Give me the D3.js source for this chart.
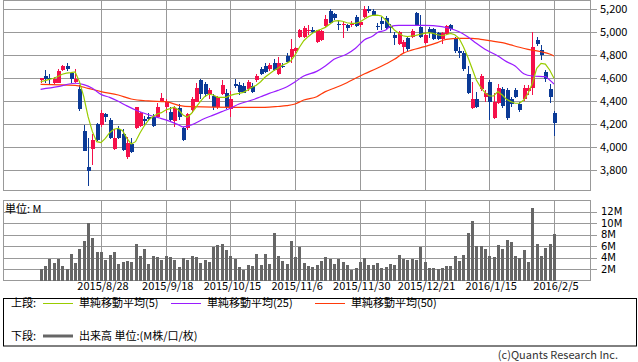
<!DOCTYPE html>
<html>
<head>
<meta charset="utf-8">
<script src="https://cdn.jsdelivr.net/npm/d3@7"></script>
<style>
  body { margin: 0; background: #fff; }
  svg { display: block; font-family: "Noto Sans CJK JP", "Noto Sans", sans-serif; }
</style>
</head>
<body>
<svg id="chart" width="638" height="362"></svg>
<script>
// tick labels
const dateTickIdx = [14, 29, 44, 59, 74, 89, 104, 119];
const dateTickLabels = ['2015/8/28', '2015/9/18', '2015/10/15', '2015/11/6', '2015/11/30', '2015/12/21', '2016/1/15', '2016/2/5'];
const priceTicks = [3800, 4000, 4200, 4400, 4600, 4800, 5000, 5200];
const volTicks = [2, 4, 6, 8, 10, 12];

// daily candles, 2015/8/10 .. 2016/2/5
const opens = [4583, 4620, 4600, 4556, 4562, 4672, 4707, 4649, 4568, 4504,
  4142, 3831, 3988, 4203, 4194, 4290, 4237, 3988, 4155, 4116,
  3920, 4025, 4167, 4185, 4249, 4266, 4266, 4266, 4397, 4348,
  4310, 4232, 4339, 4168, 4165, 4324, 4397, 4581, 4550, 4466,
  4446, 4353, 4466, 4475, 4330, 4550, 4539, 4530, 4504, 4533,
  4581, 4678, 4707, 4678, 4736, 4638, 4710, 4794, 4788, 4837,
  4957, 4957, 5010, 5020, 4918, 4930, 5055, 5189, 5160, 5070,
  5065, 5060, 5060, 5132, 5060, 5130, 5200, 5185, 5055, 5098,
  5122, 5052, 4977, 4896, 4875, 4948, 4962, 5170, 5049, 4904,
  5026, 5026, 4991, 4939, 4985, 5061, 4948, 4840, 4817, 4638,
  4339, 4417, 4504, 4434, 4571, 4252, 4386, 4504, 4498, 4423,
  4498, 4376, 4417, 4492, 4520, 4937, 4846, 4658, 4504, 4296];
const highs = [4602, 4672, 4634, 4608, 4678, 4715, 4736, 4655, 4678, 4542,
  4194, 4078, 4116, 4210, 4324, 4301, 4259, 4159, 4185, 4159,
  4092, 4081, 4354, 4310, 4276, 4295, 4290, 4388, 4469, 4417,
  4350, 4360, 4380, 4180, 4300, 4438, 4562, 4594, 4571, 4520,
  4466, 4446, 4585, 4504, 4492, 4594, 4571, 4560, 4585, 4555,
  4640, 4695, 4730, 4730, 4765, 4783, 4730, 4817, 4939, 4875,
  5030, 5055, 5060, 5045, 5020, 5020, 5152, 5200, 5170, 5098,
  5098, 5075, 5098, 5150, 5098, 5225, 5228, 5200, 5085, 5130,
  5140, 5070, 5000, 5010, 4930, 4962, 5026, 5180, 5150, 5000,
  5045, 5035, 5005, 5005, 5063, 5075, 4962, 4875, 4835, 4707,
  4571, 4484, 4638, 4500, 4585, 4469, 4550, 4527, 4513, 4440,
  4513, 4395, 4540, 4540, 5005, 4955, 4890, 4670, 4550, 4316];
const lows = [4563, 4556, 4550, 4550, 4555, 4665, 4661, 4562, 4562, 4318,
  3971, 3666, 3846, 4055, 4179, 4223, 4069, 3977, 4070, 3968,
  3901, 3950, 4157, 4175, 4185, 4225, 4180, 4262, 4390, 4296,
  4223, 4180, 4237, 4055, 4150, 4301, 4390, 4423, 4440, 4417,
  4324, 4330, 4455, 4330, 4266, 4513, 4455, 4470, 4490, 4470,
  4565, 4630, 4650, 4665, 4660, 4630, 4690, 4730, 4730, 4817,
  4950, 4950, 4975, 4990, 4910, 4925, 5050, 5070, 5105, 5020,
  4948, 5010, 5050, 5050, 5050, 5125, 5165, 5140, 5020, 5020,
  5025, 4990, 4890, 4890, 4817, 4840, 4950, 5055, 4950, 4895,
  4950, 4930, 4930, 4900, 4975, 5010, 4817, 4774, 4660, 4460,
  4330, 4340, 4490, 4390, 4237, 4245, 4375, 4345, 4237, 4350,
  4425, 4310, 4400, 4455, 4455, 4880, 4759, 4570, 4388, 4098];
const closes = [4600, 4594, 4590, 4591, 4666, 4707, 4678, 4597, 4597, 4330,
  3971, 3797, 4063, 4063, 4296, 4266, 4078, 4081, 4081, 3980,
  4035, 3962, 4354, 4296, 4229, 4244, 4185, 4353, 4431, 4397,
  4237, 4339, 4260, 4063, 4290, 4417, 4520, 4466, 4466, 4498,
  4353, 4434, 4542, 4348, 4417, 4533, 4484, 4475, 4571, 4484,
  4620, 4638, 4658, 4716, 4672, 4736, 4700, 4742, 4852, 4861,
  5020, 5040, 5020, 5000, 5020, 5015, 5112, 5084, 5122, 5060,
  5075, 5040, 5075, 5055, 5090, 5200, 5185, 5150, 5050, 5070,
  5035, 5040, 4948, 5005, 4918, 4852, 5014, 5063, 4957, 4977,
  4991, 4939, 4939, 4991, 5055, 5026, 4840, 4817, 4678, 4475,
  4417, 4348, 4620, 4475, 4397, 4397, 4520, 4359, 4252, 4376,
  4434, 4324, 4520, 4520, 4873, 4902, 4803, 4591, 4434, 4214];
// volume in millions
const volumes = [2.03, 2.6, 3.77, 3.07, 3.77, 2.6, 2.03, 4.64, 3.07, 5.5,
  6.84, 10.0, 7.42, 4.93, 5.04, 3.6, 4.46, 5.04, 2.9, 3.3,
  3.48, 3.3, 6.38, 4.35, 5.5, 2.9, 4.35, 4.17, 3.65, 4.23,
  4.06, 3.6, 2.43, 3.88, 3.65, 4.23, 4.06, 3.07, 3.6, 3.3,
  5.8, 6.2, 6.38, 5.4, 4.35, 3.77, 2.32, 1.86, 2.72, 2.6,
  4.64, 2.72, 4.64, 2.9, 8.3, 4.23, 3.48, 2.9, 6.84, 4.17,
  5.8, 3.07, 2.6, 2.43, 2.78, 3.48, 4.17, 3.77, 2.9, 3.77,
  3.3, 2.72, 1.91, 2.2, 3.3, 3.94, 2.72, 2.72, 3.07, 2.2,
  2.43, 2.9, 2.72, 4.46, 3.77, 3.65, 3.77, 3.6, 5.8, 3.3,
  2.2, 2.2, 2.03, 2.2, 2.49, 2.49, 4.23, 3.48, 4.46, 8.3,
  10.4, 5.97, 5.97, 5.5, 4.23, 4.06, 6.2, 5.5, 7.07, 6.67,
  4.23, 3.88, 5.33, 3.3, 12.6, 6.38, 4.23, 5.68, 6.38, 8.12];

// moving averages
const ma5 = [4570, 4580, 4590, 4600, 4615, 4635, 4645, 4649, 4655, 4570,
  4440, 4266, 4136, 4049, 4040, 4078, 4127, 4157, 4165, 4144,
  4078, 4029, 4049, 4122, 4185, 4237, 4266, 4290, 4301, 4324,
  4336, 4348, 4324, 4281, 4261, 4296, 4348, 4397, 4440, 4463,
  4455, 4434, 4434, 4434, 4452, 4463, 4469, 4478, 4498, 4522,
  4539, 4570, 4609, 4637, 4666, 4687, 4713, 4730, 4753, 4803,
  4870, 4927, 4962, 4991, 5014, 5026, 5043, 5070, 5098, 5101,
  5096, 5083, 5078, 5078, 5090, 5113, 5136, 5148, 5150, 5142,
  5107, 5063, 5020, 4991, 4970, 4962, 4968, 4974, 4983, 4991,
  4997, 4991, 4979, 4970, 4979, 4991, 4979, 4948, 4875, 4788,
  4687, 4585, 4522, 4475, 4446, 4446, 4484, 4455, 4417, 4397,
  4383, 4383, 4411, 4470, 4557, 4687, 4730, 4724, 4672, 4600];
// [day index, value]
const ma25 = [[0, 4504], [4, 4527], [8, 4557], [10, 4545], [12, 4513], [14, 4460], [16, 4434],
  [18, 4400], [20, 4360], [22, 4325], [24, 4296], [26, 4270], [28, 4250], [30, 4225],
  [32, 4195], [33, 4178], [35, 4195], [38, 4250], [40, 4280], [42, 4310], [44, 4340],
  [46, 4376], [49, 4411], [51, 4440], [53, 4469], [55, 4495], [57, 4525], [59, 4570],
  [61, 4620], [64, 4660], [66, 4707], [68, 4765], [71, 4811], [73, 4861], [75, 4933],
  [77, 4968], [78, 4997], [80, 5020], [81, 5049], [83, 5061], [86, 5060], [89, 5061],
  [93, 5049], [96, 5020], [97, 5005], [99, 4962], [101, 4904], [103, 4852], [106, 4794],
  [108, 4745], [110, 4707], [112, 4640], [114, 4620], [117, 4614], [118, 4585], [119, 4550]];
const ma50 = [[0, 4548], [8, 4539], [11, 4513], [14, 4484], [18, 4455], [21, 4420], [25, 4403],
  [29, 4397], [32, 4365], [35, 4353], [45, 4348], [52, 4348], [55, 4355], [57, 4362],
  [59, 4377], [61, 4411], [64, 4440], [66, 4484], [68, 4513], [71, 4562], [73, 4600],
  [75, 4637], [78, 4687], [80, 4724], [82, 4765], [84, 4817], [86, 4845], [89, 4875],
  [92, 4910], [94, 4939], [97, 4948], [100, 4948], [102, 4939], [104, 4927], [107, 4910],
  [109, 4890], [111, 4870], [113, 4852], [116, 4831], [118, 4811], [119, 4794]];

const UP = '#f5104a', DOWN = '#0b3a96';
const GRID = '#999';

const left = 3.5, right = 590.5;
const pTop = 0.5, pBottom = 190.5;
const vTop = 200.5, vBottom = 280.5;

const svg = d3.select('#chart');

const x = d3.scaleLinear().domain([-8.72, 127.35]).range([3, 590]);
const yP = d3.scaleLinear().domain([3628.7, 5280.9]).range([190, 0]);
const yV = d3.scaleLinear().domain([0, 14]).range([280.5, 200.3]);
const px = i => Math.round(x(i)) + 0.5;

// grids
const grid = svg.append('g').attr('stroke', GRID).attr('stroke-width', 1).attr('shape-rendering', 'crispEdges');
grid.selectAll('.hp').data(priceTicks).enter().append('line')
  .attr('x1', left).attr('x2', right + 6)
  .attr('y1', d => Math.round(yP(d)) + 0.5).attr('y2', d => Math.round(yP(d)) + 0.5);
grid.selectAll('.hv').data(volTicks).enter().append('line')
  .attr('x1', left).attr('x2', right + 6)
  .attr('y1', d => Math.round(yV(d)) + 0.5).attr('y2', d => Math.round(yV(d)) + 0.5);
grid.selectAll('.vp').data(dateTickIdx).enter().append('line')
  .attr('x1', d => px(d)).attr('x2', d => px(d)).attr('y1', pTop).attr('y2', pBottom);
grid.selectAll('.vv').data(dateTickIdx).enter().append('line')
  .attr('x1', d => px(d)).attr('x2', d => px(d)).attr('y1', vTop).attr('y2', vBottom);
[[pTop, pBottom], [vTop, vBottom]].forEach(([t, b]) => {
  grid.append('rect').attr('x', left).attr('y', t).attr('width', right - left).attr('height', b - t)
    .attr('fill', 'none');
});

// volume bars
svg.append('g').attr('fill', '#666').attr('shape-rendering', 'crispEdges')
  .selectAll('rect').data(volumes).enter().append('rect')
  .attr('x', (d, i) => Math.round(x(i)) - 1)
  .attr('width', 3)
  .attr('y', d => yV(d))
  .attr('height', d => yV(0) - yV(d));

// candles
const candles = svg.append('g').attr('shape-rendering', 'crispEdges');
const days = d3.range(opens.length);
candles.selectAll('line').data(days).enter().append('line')
  .attr('x1', i => px(i)).attr('x2', i => px(i))
  .attr('y1', i => yP(highs[i])).attr('y2', i => yP(lows[i]))
  .attr('stroke', i => closes[i] >= opens[i] ? UP : DOWN);
candles.selectAll('rect').data(days).enter().append('rect')
  .attr('x', i => Math.round(x(i)) - 1.5)
  .attr('width', 4)
  .attr('y', i => yP(Math.max(opens[i], closes[i])))
  .attr('height', i => Math.max(1, Math.abs(yP(opens[i]) - yP(closes[i]))))
  .attr('fill', i => closes[i] >= opens[i] ? UP : DOWN);

// moving averages
const lineA = d3.line().x(d => x(d[0])).y(d => yP(d[1])).curve(d3.curveMonotoneX);
svg.append('path').datum(ma50).attr('d', lineA)
  .attr('fill', 'none').attr('stroke', '#ff3a0a').attr('stroke-width', 1.2);
svg.append('path').datum(ma25).attr('d', lineA)
  .attr('fill', 'none').attr('stroke', '#9a1cff').attr('stroke-width', 1.2);
svg.append('path').datum(ma5.map((v, i) => [i, v]))
  .attr('d', d3.line().x(d => x(d[0])).y(d => yP(d[1])))
  .attr('fill', 'none').attr('stroke', '#99cc00').attr('stroke-width', 1.2);

// axis labels
const fmt = d3.format(',');
svg.append('g').attr('font-size', 11).attr('fill', '#000')
  .selectAll('text').data(priceTicks).enter().append('text')
  .attr('x', 600).attr('y', d => yP(d)).attr('dy', '0.35em')
  .text(d => fmt(d));
svg.append('g').attr('font-size', 10).attr('font-family', '"DejaVu Sans", sans-serif').attr('fill', '#000')
  .selectAll('text').data(volTicks).enter().append('text')
  .attr('x', 601).attr('y', d => yV(d)).attr('dy', '0.35em')
  .text(d => d + 'M');
svg.append('g').attr('font-size', 11).attr('fill', '#000').attr('text-anchor', 'middle')
  .selectAll('text').data(dateTickIdx).enter().append('text')
  .attr('x', d => x(d) + 2).attr('y', 290)
  .text((d, i) => dateTickLabels[i]);
svg.append('text').attr('x', 5).attr('y', 213).attr('font-size', 11).text('単位: M');

// legend
const lg = svg.append('g').attr('font-size', 11);
lg.append('rect').attr('x', 3.5).attr('y', 298.5).attr('width', 633).attr('height', 47.5)
  .attr('fill', 'none').attr('stroke', '#000').attr('stroke-width', 1);
lg.append('text').attr('x', 11).attr('y', 307).text('上段:');
const legendItems = [
  {x: 43, color: '#99cc00', label: '単純移動平均(5)'},
  {x: 171, color: '#9a1cff', label: '単純移動平均(25)'},
  {x: 315, color: '#ff3a0a', label: '単純移動平均(50)'}
];
legendItems.forEach(d => {
  lg.append('line').attr('x1', d.x).attr('x2', d.x + 30).attr('y1', 303.5).attr('y2', 303.5)
    .attr('stroke', d.color).attr('stroke-width', 1);
  lg.append('text').attr('x', d.x + 36).attr('y', 307).text(d.label);
});
lg.append('text').attr('x', 11).attr('y', 340).text('下段:');
lg.append('line').attr('x1', 43).attr('x2', 73).attr('y1', 336).attr('y2', 336)
  .attr('stroke', '#666').attr('stroke-width', 3);
lg.append('text').attr('x', 79).attr('y', 340).text('出来高 単位:(M株/口/枚)');

svg.append('text').attr('x', 618).attr('y', 359).attr('text-anchor', 'end')
  .attr('font-size', 11).attr('fill', '#333').text('(c)Quants Research Inc.');
</script>
</body>
</html>
